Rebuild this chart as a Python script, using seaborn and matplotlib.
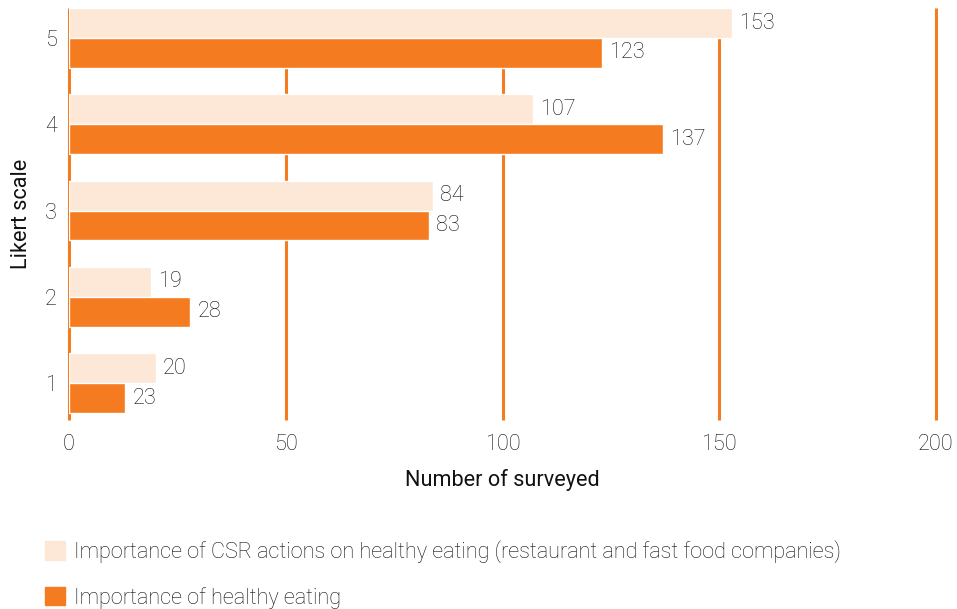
import seaborn as sns
import pandas as pd
import matplotlib.pyplot as plt

likert = ['5', '4', '3', '2', '1']
csr = [153, 107, 84, 19, 20]
healthy = [123, 137, 83, 28, 13]
csr_labels = ['153', '107', '84', '19', '20']
healthy_labels = ['123', '137', '83', '28', '23']
series = ['Importance of CSR actions on healthy eating (restaurant and fast food companies)',
          'Importance of healthy eating']
colors = ['#FDE7D6', '#F47B20']
xticks = [0, 50, 100, 150, 200]

df = pd.DataFrame({
    'likert': likert * 2,
    'value': csr + healthy,
    'serie': [series[0]] * 5 + [series[1]] * 5,
})

sns.set_style('white')
plt.rcParams['font.family'] = ['Roboto', 'DejaVu Sans']
plt.rcParams['font.weight'] = 'light'
txt = '#111111'
fs = 15.6

fig = plt.figure(figsize=(9.57, 6.09), dpi=100)
ax = fig.add_axes([0.0721, 0.3103, 0.906, 0.6765])
sns.barplot(data=df, y='likert', x='value', hue='serie', order=likert, hue_order=series,
            palette=colors, orient='h', width=0.694, gap=0, saturation=1, ax=ax, legend=False)

ax.set_xlim(0, 200)
ax.set_ylim(4.428, -0.347)
ax.set_xticks(xticks)
ax.set_axisbelow(True)
ax.grid(axis='x', color='#F47B20', linewidth=2.2, solid_capstyle='butt')
ax.grid(axis='y', visible=False)
for line in ax.get_xgridlines():
    line.set_clip_on(False)
for s in ax.spines.values():
    s.set_visible(False)
ax.tick_params(length=0, labelsize=fs, colors=txt)
ax.tick_params(axis='y', pad=9)
ax.tick_params(axis='x', pad=10)
ax.set_xlabel('Number of surveyed', fontsize=fs, color='#111111', fontweight='normal', labelpad=10)
ax.set_ylabel('Likert scale', fontsize=fs, color='#111111', fontweight='normal', labelpad=9)

ax.bar_label(ax.containers[0], labels=csr_labels, padding=5, fontsize=fs, color=txt)
ax.bar_label(ax.containers[1], labels=healthy_labels, padding=5, fontsize=fs, color=txt)

handles = [plt.Rectangle((0, 0), 1, 1, color=c) for c in colors]
fig.legend(handles, series, loc='upper left', bbox_to_anchor=(0.047, 0.113), frameon=False,
           fontsize=fs, labelcolor=txt, handlelength=0.92, handleheight=0.92,
           handletextpad=0.4, labelspacing=1.1, borderpad=0, borderaxespad=0)

fig.savefig('out.png', dpi=100)
